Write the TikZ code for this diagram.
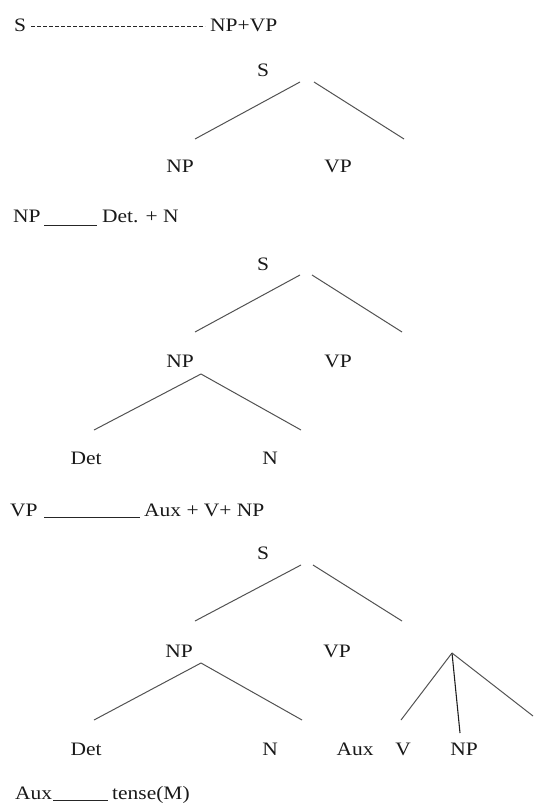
\documentclass[tikz,border=0pt]{standalone}
\usepackage{fontspec}
\setmainfont[FakeStretch=1.13]{Liberation Serif}
\begin{document}
\begin{tikzpicture}[x=1pt,y=-1pt,
  lbl/.style={inner sep=0pt, anchor=base, text=black!90},
  lft/.style={inner sep=0pt, anchor=base west, text=black!90},
  branch/.style={draw=black!68, line width=1pt},
  solidbranch/.style={draw=black!88, line width=1.1pt},
  rule/.style={draw=black!85, line width=0.9pt},
  font=\fontsize{19}{22}\selectfont]
\useasboundingbox (0,0) rectangle (533,805);

% ---- rule 1
\node[lft] (r1a) at (14,32) {S};
\node[lft] (r1b) at (210,32) {NP+VP};
\coordinate (r1s) at (31,26);
\coordinate (r1e) at (205,26);
\draw[rule, dash pattern=on 4pt off 2pt] (r1s) -- (r1e);

% ---- tree 1
\node[lbl] (t1s) at (263,77) {S};
\node[lbl] (t1np) at (180,173) {NP};
\node[lbl] (t1vp) at (338,173) {VP};
\coordinate (t1a) at (300,82);
\coordinate (t1b) at (314,82);
\coordinate (t1l) at (195,139);
\coordinate (t1r) at (404,139);
\draw[branch] (t1a) -- (t1l);
\draw[branch] (t1b) -- (t1r);

% ---- rule 2
\node[lft] (r2a) at (13,222) {NP};
\node[lft] (r2b) at (102,222) {Det. + N};
\coordinate (r2s) at (44,225);
\coordinate (r2e) at (97,225);
\draw[rule] (r2s) -- (r2e);

% ---- tree 2
\node[lbl] (t2s) at (263,270) {S};
\node[lbl] (t2np) at (180,367) {NP};
\node[lbl] (t2vp) at (338,367) {VP};
\node[lbl] (t2det) at (86,464) {Det};
\node[lbl] (t2n) at (270,464) {N};
\coordinate (t2a) at (300,275);
\coordinate (t2b) at (312,275);
\coordinate (t2l) at (195,332);
\coordinate (t2r) at (402,332);
\draw[branch] (t2a) -- (t2l);
\draw[branch] (t2b) -- (t2r);
\coordinate (t2c) at (201,374);
\coordinate (t2cl) at (94,430);
\coordinate (t2cr) at (301,430);
\draw[branch] (t2c) -- (t2cl);
\draw[branch] (t2c) -- (t2cr);

% ---- rule 3
\node[lft] (r3a) at (10,516) {VP};
\node[lft] (r3b) at (144,516) {Aux + V+ NP};
\coordinate (r3s) at (44,517);
\coordinate (r3e) at (140,517);
\draw[rule] (r3s) -- (r3e);

% ---- tree 3
\node[lbl] (t3s) at (263,559) {S};
\node[lbl] (t3np) at (179,657) {NP};
\node[lbl] (t3vp) at (337,657) {VP};
\node[lbl] (t3det) at (86,755) {Det};
\node[lbl] (t3n) at (270,755) {N};
\node[lbl] (t3aux) at (355,755) {Aux};
\node[lbl] (t3v) at (403,755) {V};
\node[lbl] (t3np2) at (464,755) {NP};
\coordinate (t3a) at (301,565);
\coordinate (t3b) at (313,565);
\coordinate (t3l) at (195,621);
\coordinate (t3r) at (402,621);
\draw[branch] (t3a) -- (t3l);
\draw[branch] (t3b) -- (t3r);
\coordinate (t3c) at (201,663);
\coordinate (t3cl) at (94,720);
\coordinate (t3cr) at (302,720);
\draw[branch] (t3c) -- (t3cl);
\draw[branch] (t3c) -- (t3cr);
\coordinate (t3d) at (452,653);
\coordinate (t3dl) at (401,720);
\coordinate (t3dm) at (460,733);
\coordinate (t3dr) at (533,716);
\draw[branch] (t3d) -- (t3dl);
\draw[solidbranch] (t3d) -- (t3dm);
\draw[branch] (t3d) -- (t3dr);

% ---- rule 4
\node[lft] (r4a) at (15,799) {Aux};
\node[lft] (r4b) at (112,799) {tense(M)};
\coordinate (r4s) at (53,800);
\coordinate (r4e) at (108,800);
\draw[rule] (r4s) -- (r4e);
\end{tikzpicture}
\end{document}
